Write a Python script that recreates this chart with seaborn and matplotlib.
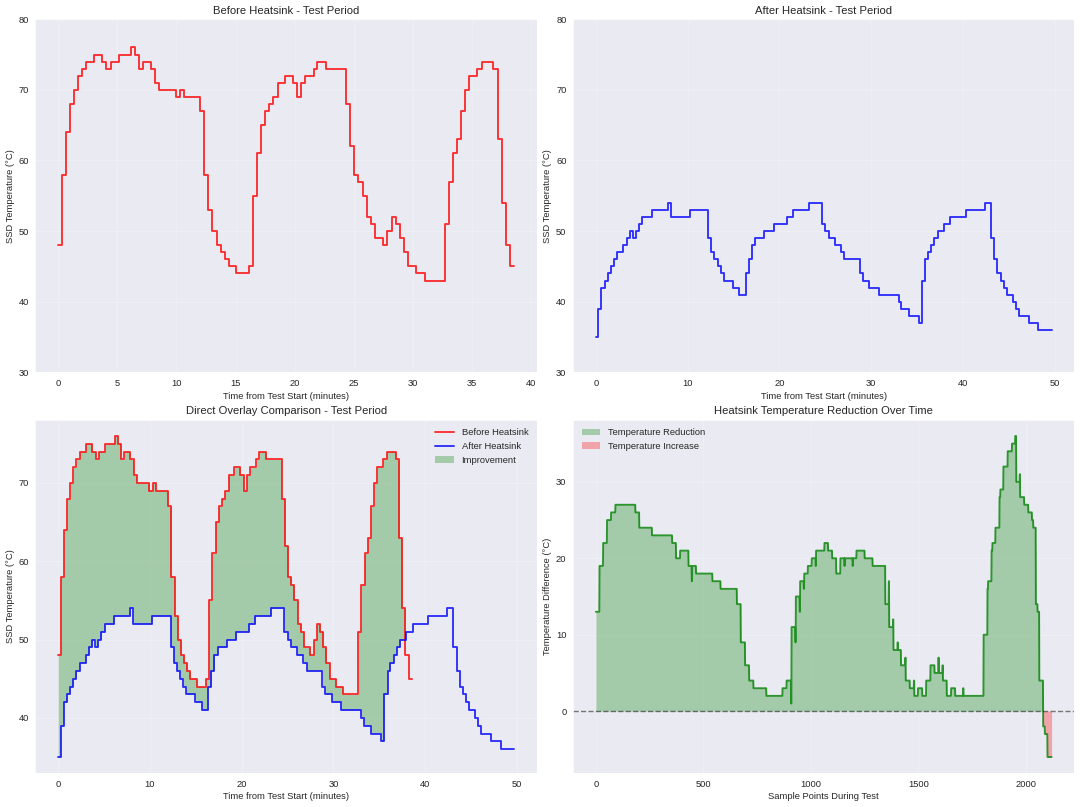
import numpy as np
import matplotlib
matplotlib.use("Agg")
import matplotlib.pyplot as plt
import seaborn as sns

# Before heatsink: minute at which each reading starts, and the reading (C)
before_t = [0, 0.28, 0.62, 0.99, 1.33, 1.64, 1.98, 2.34, 3.02, 3.73,
            4.07, 4.44, 5.14, 6.16, 6.5, 6.84, 7.2, 7.85, 8.22, 8.56,
            9.94, 10.28, 10.65, 11.98, 12.34, 12.68, 13.05, 13.39, 13.73, 14.07,
            14.41, 15.08, 16.1, 16.44, 16.78, 17.15, 17.49, 17.82, 18.16, 18.56,
            19.18, 19.86, 20.2, 20.57, 20.9, 21.6, 21.93, 22.64, 24.35, 24.7,
            25.06, 25.4, 25.74, 26.1, 26.45, 26.76, 27.47, 27.84, 28.2, 28.55,
            28.9, 29.23, 29.57, 30.26, 31.0, 32.7, 33.04, 33.4, 33.75, 34.1,
            34.43, 34.77, 35.45, 35.82, 36.82, 37.19, 37.5, 37.84, 38.2]
before_v = [48, 58, 64, 68, 70, 72, 73, 74, 75, 74,
            73, 74, 75, 76, 75, 73, 74, 73, 71, 70,
            69, 70, 69, 67, 58, 53, 50, 48, 47, 46,
            45, 44, 45, 55, 61, 65, 67, 68, 69, 71,
            72, 71, 69, 71, 72, 73, 74, 73, 68, 62,
            58, 57, 55, 52, 51, 49, 48, 50, 52, 51,
            49, 47, 45, 44, 43, 51, 57, 61, 63, 67,
            70, 72, 73, 74, 73, 63, 54, 48, 45]
before_end = 38.55

# After heatsink
after_t = [0, 0.25, 0.58, 0.98, 1.27, 1.63, 1.99, 2.32, 3.01, 3.37,
           3.73, 4.06, 4.35, 4.71, 5.07, 6.12, 7.86, 8.15, 10.22, 12.25,
           12.57, 12.93, 13.3, 13.62, 13.95, 14.96, 15.65, 16.34, 16.7, 17.03,
           17.36, 18.37, 19.42, 20.8, 21.49, 23.19, 24.6, 25.02, 25.38, 26.04,
           26.73, 27.09, 28.8, 29.13, 29.82, 30.84, 33.02, 33.31, 34.11, 35.2,
           35.53, 35.89, 36.18, 36.55, 36.87, 37.24, 37.93, 38.62, 40.33, 42.4,
           43.05, 43.42, 43.75, 44.11, 44.47, 44.8, 45.45, 45.78, 46.11, 47.16,
           48.22]
after_v = [35, 39, 42, 43, 44, 45, 46, 47, 48, 49,
           50, 49, 50, 51, 52, 53, 54, 52, 53, 49,
           47, 46, 45, 44, 43, 42, 41, 44, 46, 48,
           49, 50, 51, 52, 53, 54, 51, 50, 49, 48,
           47, 46, 44, 43, 42, 41, 40, 39, 38, 37,
           43, 46, 47, 48, 49, 50, 51, 52, 53, 54,
           49, 46, 44, 43, 42, 41, 40, 39, 38, 37,
           36]
after_end = 49.67

# Before - after, by sample index (sample where each value starts)
diff_s = [0, 17, 34, 52, 71, 91, 184, 202, 261, 355,
          373, 392, 431, 446, 448, 466, 542, 580, 656, 674,
          694, 713, 733, 793, 868, 887, 908, 910, 928, 930,
          948, 950, 967, 969, 986, 1004, 1022, 1024, 1063, 1080,
          1099, 1118, 1137, 1156, 1158, 1194, 1196, 1212, 1250, 1287,
          1346, 1362, 1364, 1382, 1384, 1403, 1405, 1419, 1439, 1441,
          1460, 1479, 1481, 1498, 1518, 1536, 1556, 1575, 1593, 1595,
          1612, 1614, 1632, 1652, 1671, 1708, 1710, 1803, 1821, 1824,
          1840, 1844, 1858, 1877, 1881, 1895, 1915, 1935, 1950, 1955,
          1971, 1973, 1992, 2011, 2028, 2034, 2046, 2054, 2062, 2080,
          2088, 2100]
diff_v = [13, 19, 22, 25, 26, 27, 26, 24, 23, 22,
          20, 21, 19, 17, 19, 18, 17, 16, 14, 9,
          6, 4, 3, 2, 3, 4, 1, 11, 9, 15,
          13, 17, 16, 18, 19, 20, 19, 21, 22, 21,
          20, 18, 20, 19, 20, 19, 20, 21, 20, 19,
          14, 17, 11, 12, 8, 9, 8, 6, 7, 4,
          3, 4, 2, 3, 2, 4, 6, 5, 7, 5,
          6, 4, 2, 3, 2, 3, 2, 10, 16, 17,
          21, 22, 24, 28, 29, 32, 34, 35, 36, 30,
          31, 28, 27, 26, 25, 24, 14, 13, 4, -2,
          -3, -6]
diff_end = 2119


def step_xy(starts, vals, end):
    # change points plus the final end point for a steps-post line
    return np.array(list(starts) + [end]), np.array(list(vals) + [vals[-1]])


def step_eval(starts, vals, x):
    idx = np.searchsorted(np.asarray(starts), x, side="right") - 1
    return np.asarray(vals)[np.clip(idx, 0, len(vals) - 1)]


sns.set_style("darkgrid")
plt.rcParams['font.family'] = ['Liberation Sans', 'DejaVu Sans']
plt.rcParams['legend.frameon'] = False

LW = 2

fig, axes = plt.subplots(2, 2, figsize=(16, 11.956), dpi=67.5)
ax1, ax2, ax3, ax4 = axes.flatten()

bx, by = step_xy(before_t, before_v, before_end)
ax_, ay = step_xy(after_t, after_v, after_end)

# Before heatsink
sns.lineplot(x=bx, y=by, drawstyle='steps-post', color='red', alpha=0.8,
             linewidth=LW, ax=ax1)
ax1.set_title('Before Heatsink - Test Period')
ax1.set_xlabel('Time from Test Start (minutes)')
ax1.set_ylabel('SSD Temperature (°C)')
ax1.set_ylim(30, 80)
ax1.grid(True, alpha=0.3)

# After heatsink
sns.lineplot(x=ax_, y=ay, drawstyle='steps-post', color='blue', alpha=0.8,
             linewidth=LW, ax=ax2)
ax2.set_title('After Heatsink - Test Period')
ax2.set_xlabel('Time from Test Start (minutes)')
ax2.set_ylabel('SSD Temperature (°C)')
ax2.set_ylim(30, 80)
ax2.grid(True, alpha=0.3)

# Overlay
sns.lineplot(x=bx, y=by, drawstyle='steps-post', color='red', alpha=0.8,
             linewidth=LW, label='Before Heatsink', ax=ax3)
sns.lineplot(x=ax_, y=ay, drawstyle='steps-post', color='blue', alpha=0.8,
             linewidth=LW, label='After Heatsink', ax=ax3)
tgrid = np.linspace(0, before_end, 4000)
b_on = step_eval(before_t, before_v, tgrid)
a_on = step_eval(after_t, after_v, tgrid)
ax3.fill_between(tgrid, b_on, a_on, where=b_on > a_on, color='green',
                 alpha=0.3, label='Improvement', linewidth=0)
ax3.set_title('Direct Overlay Comparison - Test Period')
ax3.set_xlabel('Time from Test Start (minutes)')
ax3.set_ylabel('SSD Temperature (°C)')
ax3.legend(loc='upper right')
ax3.grid(True, alpha=0.3)

# Difference
samples = np.arange(0, diff_end + 1)
diff = step_eval(diff_s, diff_v, samples)
sns.lineplot(x=samples, y=diff, color='green', alpha=0.8, linewidth=LW, ax=ax4)
ax4.fill_between(samples, diff, 0, where=diff > 0, color='green', alpha=0.3,
                 label='Temperature Reduction', interpolate=True, linewidth=0)
ax4.fill_between(samples, diff, 0, where=diff < 0, color='red', alpha=0.3,
                 label='Temperature Increase', interpolate=True, linewidth=0)
ax4.axhline(0, color='black', linestyle='--', alpha=0.5, linewidth=1.5)
ax4.set_title('Heatsink Temperature Reduction Over Time')
ax4.set_xlabel('Sample Points During Test')
ax4.set_ylabel('Temperature Difference (°C)')
ax4.legend(loc='upper left')
ax4.grid(True, alpha=0.3)

plt.tight_layout(pad=0.6)
fig.savefig('out.png', dpi=67.5)
